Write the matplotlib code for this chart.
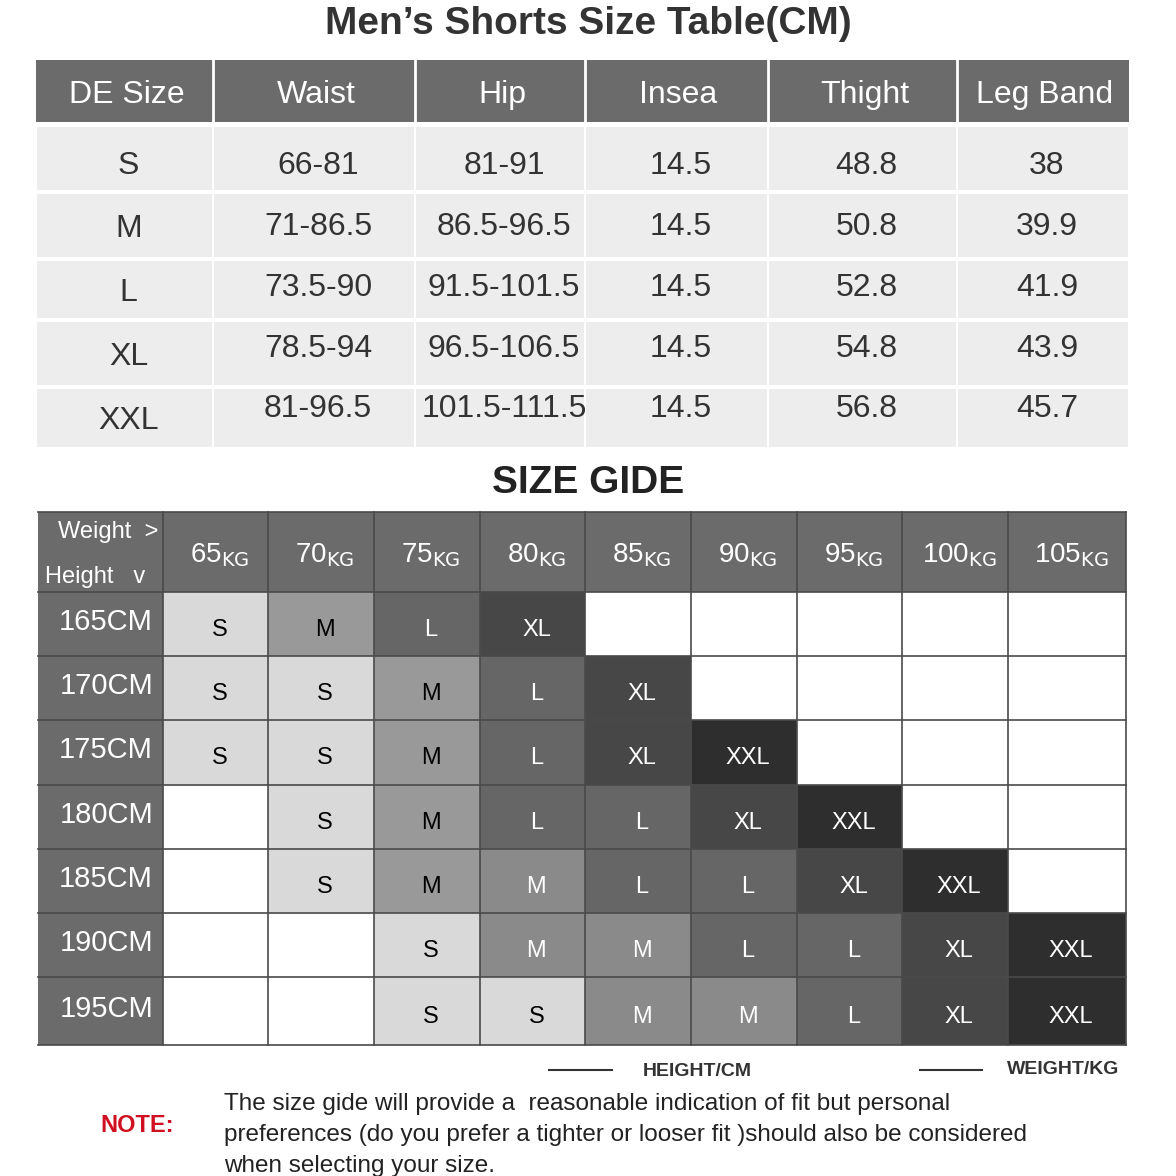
import matplotlib.pyplot as plt
from matplotlib.patches import Rectangle

plt.rcParams['font.family'] = ['Liberation Sans', 'DejaVu Sans']

# top table data
top_cols = ["DE Size", "Waist", "Hip", "Insea", "Thight", "Leg Band"]
sizes = ["S", "M", "L", "XL", "XXL"]
waist = ["66-81", "71-86.5", "73.5-90", "78.5-94", "81-96.5"]
hip = ["81-91", "86.5-96.5", "91.5-101.5", "96.5-106.5", "101.5-111.5"]
insea = ["14.5", "14.5", "14.5", "14.5", "14.5"]
thight = ["48.8", "50.8", "52.8", "54.8", "56.8"]
legband = ["38", "39.9", "41.9", "43.9", "45.7"]

# size guide data
weights = ["65", "70", "75", "80", "85", "90", "95", "100", "105"]
heights = ["165CM", "170CM", "175CM", "180CM", "185CM", "190CM", "195CM"]
guide = [
    ["S", "M", "L", "XL", "", "", "", "", ""],
    ["S", "S", "M", "L", "XL", "", "", "", ""],
    ["S", "S", "M", "L", "XL", "XXL", "", "", ""],
    ["", "S", "M", "L", "L", "XL", "XXL", "", ""],
    ["", "S", "M", "M", "L", "L", "XL", "XXL", ""],
    ["", "", "S", "M", "M", "L", "L", "XL", "XXL"],
    ["", "", "S", "S", "M", "M", "L", "XL", "XXL"],
]
size_fill = {"": "white", "S": "#d9d9d9", "M": "#999999", "L": "#666666",
             "XL": "#474747", "XXL": "#2e2e2e"}

fig = plt.figure(figsize=(11.76, 11.76), dpi=100)
ax = fig.add_axes([0, 0, 1, 1])
ax.set_xlim(0, 1176)
ax.set_ylim(1176, 0)
ax.axis("off")

ax.text(588, 24, "Men’s Shorts Size Table(CM)", ha="center", va="center",
        fontsize=28, fontweight="bold", color="#333333")

# top table
xe = [36, 213, 415, 585, 768, 957, 1129]
ax.add_patch(Rectangle((36, 60), 1093, 62, color="#6b6b6b", lw=0))
for i, c in enumerate(top_cols):
    if i > 0:
        ax.plot([xe[i], xe[i]], [60, 122], color="white", lw=2)
    ax.text((xe[i] + xe[i + 1]) / 2 + 2, 95, c, ha="center", va="center",
            fontsize=23, color="white")
ye = [127, 194, 261, 322, 389, 451]
size_y = [166, 229, 293, 357, 421]
val_y = [166, 227, 288, 349, 409]
cols = [sizes, waist, hip, insea, thight, legband]
for r in range(5):
    for i in range(6):
        ax.add_patch(Rectangle((xe[i] + 1, ye[r]), xe[i + 1] - xe[i] - 2,
                               ye[r + 1] - ye[r] - 4, color="#ededed", lw=0))
        yy = size_y[r] if i == 0 else val_y[r]
        ax.text((xe[i] + xe[i + 1]) / 2 + 4, yy, cols[i][r], ha="center",
                va="center", fontsize=23, color="#333333")

ax.text(588, 483, "SIZE GIDE", ha="center", va="center", fontsize=28,
        fontweight="bold", color="#222222")

# size guide grid
gx = [38, 163, 268, 374, 480, 585, 691, 797, 902, 1008, 1126]
gy = [592, 656, 720, 785, 849, 913, 977, 1045]
ax.add_patch(Rectangle((38, 512), 1088, 80, color="#6b6b6b", lw=0))
ax.add_patch(Rectangle((38, 592), 125, 453, color="#6b6b6b", lw=0))
ax.text(108, 532, "Weight  >", ha="center", va="center", fontsize=17, color="white")
ax.text(95, 577, "Height   v", ha="center", va="center", fontsize=17, color="white")
for j, w in enumerate(weights):
    cx = (gx[j + 1] + gx[j + 2]) / 2 + 4
    ax.text(cx, 555, w + "$_{\\mathsf{KG}}$", ha="center", va="center",
            fontsize=20, color="white")
for r, h in enumerate(heights):
    cy = (gy[r] + gy[r + 1]) / 2
    ax.text(153, cy - 2, h, ha="right", va="center", fontsize=21, color="white")
    for j in range(9):
        s = guide[r][j]
        fill = size_fill[s]
        if s == "M" and j >= 3:
            fill = "#8a8a8a"
        ax.add_patch(Rectangle((gx[j + 1], gy[r]), gx[j + 2] - gx[j + 1],
                               gy[r + 1] - gy[r], color=fill, lw=0))
        tc = "black" if s == "S" or (s == "M" and j < 3) else "white"
        ax.text((gx[j + 1] + gx[j + 2]) / 2 + 4, cy + 6, s, ha="center",
                va="center", fontsize=17, color=tc)
for x in gx[1:]:
    ax.plot([x, x], [512, 1045], color="#4a4a4a", lw=1.2)
for y in [512] + gy:
    ax.plot([38, 1126], [y, y], color="#4a4a4a", lw=1.2)

# legend lines
ax.plot([549, 612], [1070, 1070], color="#333333", lw=1.5)
ax.text(697, 1071, "HEIGHT/CM", ha="center", va="center", fontsize=14,
        fontweight="bold", color="#333333")
ax.plot([920, 982], [1070, 1070], color="#333333", lw=1.5)
ax.text(1063, 1069, "WEIGHT/KG", ha="center", va="center", fontsize=14,
        fontweight="bold", color="#333333")

ax.text(100, 1125, "NOTE:", ha="left", va="center", fontsize=17,
        fontweight="bold", color="#d01020")
note = ["The size gide will provide a  reasonable indication of fit but personal",
        "preferences (do you prefer a tighter or looser fit )should also be considered",
        "when selecting your size."]
for i, line in enumerate(note):
    ax.text(224, 1104 + i * 31, line, ha="left", va="center", fontsize=17.5,
            color="#222222")

fig.savefig("out.png", dpi=100)
